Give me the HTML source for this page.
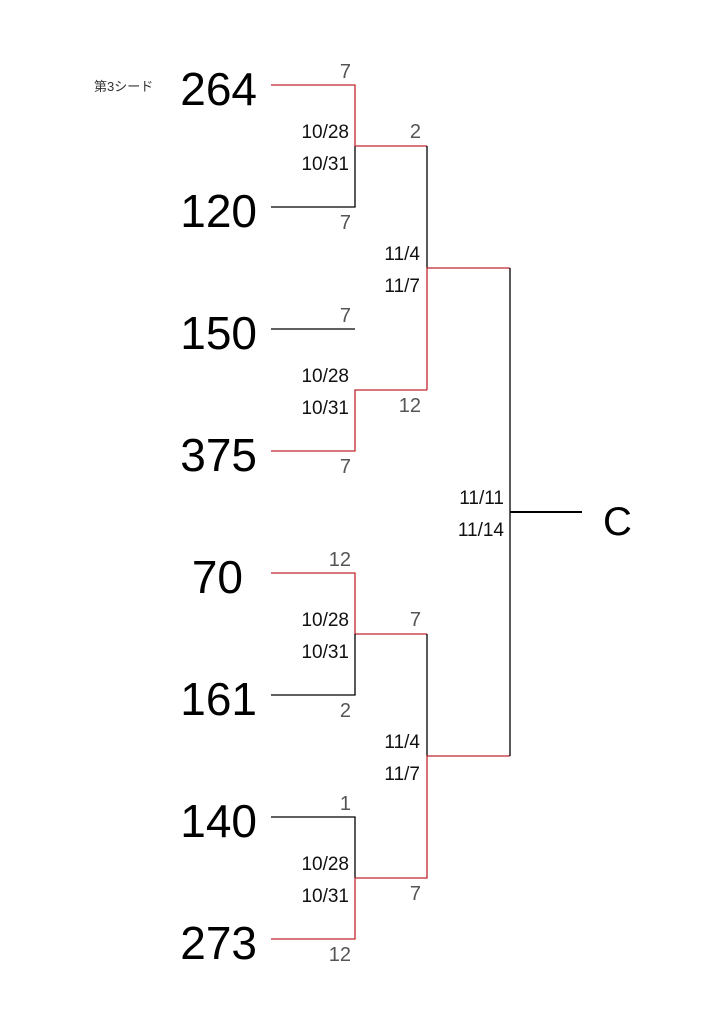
<!DOCTYPE html>
<html><head><meta charset="utf-8"><style>
body{margin:0;background:#fff;width:709px;height:1024px;overflow:hidden}
svg text{font-family:"Liberation Sans","Noto Sans CJK JP",sans-serif}
</style></head><body>
<svg width="709" height="1024" xmlns="http://www.w3.org/2000/svg">
<g stroke-width="1.3" fill="none">
<path d="M271 85H355V146" stroke="#c0272d"/>
<path d="M271 207H355V146" stroke="#000"/>
<path d="M355 146H427" stroke="#c0272d"/>
<path d="M271 329H355" stroke="#000"/>
<path d="M271 451H355V390H427" stroke="#c0272d"/>
<path d="M427 146V268" stroke="#000"/>
<path d="M427 390V268H510" stroke="#c0272d"/>
<path d="M271 573H355V634H427" stroke="#c0272d"/>
<path d="M271 695H355V634" stroke="#000"/>
<path d="M427 634V756" stroke="#000"/>
<path d="M271 817H355V878" stroke="#000"/>
<path d="M271 939H355V878H427V756H510" stroke="#c0272d"/>
<path d="M510 268V756" stroke="#000"/>
<path d="M510 512H582" stroke="#000" stroke-width="2"/>
</g>
<g font-size="46" fill="#000" text-anchor="end">
<text x="257" y="105">264</text>
<text x="257" y="227">120</text>
<text x="257" y="349">150</text>
<text x="257" y="471">375</text>
<text x="243" y="593">70</text>
<text x="257" y="715">161</text>
<text x="257" y="837">140</text>
<text x="257" y="959">273</text>
</g>
<text x="94" y="91" font-size="13" fill="#333">第3シード</text>
<text x="603" y="535" font-size="40" fill="#000">C</text>
<g font-size="20" fill="#555" text-anchor="end">
<text x="351" y="78">7</text>
<text x="351" y="229">7</text>
<text x="351" y="322">7</text>
<text x="351" y="473">7</text>
<text x="351" y="566">12</text>
<text x="351" y="717">2</text>
<text x="351" y="810">1</text>
<text x="351" y="961">12</text>
<text x="421" y="138">2</text>
<text x="421" y="412">12</text>
<text x="421" y="626">7</text>
<text x="421" y="900">7</text>
</g>
<g font-size="19" fill="#111" text-anchor="end">
<text x="349" y="138">10/28</text><text x="349" y="170">10/31</text>
<text x="349" y="382">10/28</text><text x="349" y="414">10/31</text>
<text x="349" y="626">10/28</text><text x="349" y="658">10/31</text>
<text x="349" y="870">10/28</text><text x="349" y="902">10/31</text>
<text x="420" y="260">11/4</text><text x="420" y="292">11/7</text>
<text x="420" y="748">11/4</text><text x="420" y="780">11/7</text>
<text x="504" y="504">11/11</text><text x="504" y="536">11/14</text>
</g>
</svg>
</body></html>
